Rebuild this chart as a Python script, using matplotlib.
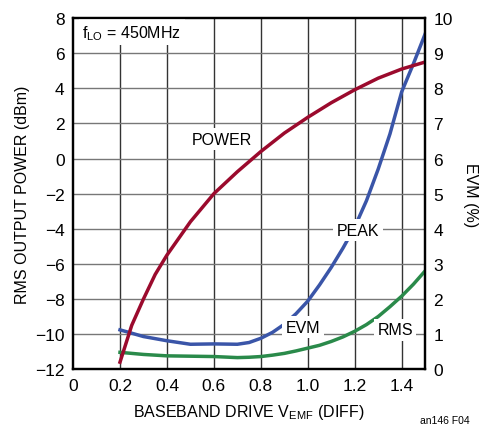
import matplotlib
matplotlib.use('Agg')
import matplotlib.pyplot as plt
import numpy as np

plt.rcParams['font.family'] = ['Liberation Sans Narrow', 'Liberation Sans', 'DejaVu Sans']

# data
drive = [0.2, 0.25, 0.3, 0.35, 0.4, 0.5, 0.6, 0.7, 0.8, 0.9, 1.0, 1.1, 1.2, 1.3, 1.4, 1.5]
power = [-11.6, -9.5, -8.0, -6.6, -5.5, -3.6, -2.0, -0.75, 0.4, 1.45, 2.35, 3.18, 3.92, 4.58, 5.1, 5.5]

evm_x = [0.2, 0.3, 0.4, 0.5, 0.6, 0.7, 0.75, 0.8, 0.85, 0.9, 0.95, 1.0, 1.05, 1.1, 1.15,
         1.2, 1.25, 1.3, 1.35, 1.4, 1.45, 1.5]
evm_peak = [1.12, 0.93, 0.81, 0.71, 0.72, 0.71, 0.76, 0.88, 1.05, 1.28, 1.58, 1.94, 2.4,
            2.9, 3.45, 4.05, 4.8, 5.7, 6.7, 7.9, 8.7, 9.55]
evm_rms = [0.48, 0.42, 0.38, 0.37, 0.36, 0.33, 0.34, 0.36, 0.4, 0.45, 0.52, 0.6, 0.68,
           0.79, 0.92, 1.08, 1.27, 1.5, 1.78, 2.08, 2.42, 2.8]

red = '#9b0a2d'
blue = '#3a55a8'
green = '#2a8a4a'

fig = plt.figure(figsize=(4.87, 4.35), dpi=100)
ax = fig.add_axes([0.150, 0.149, 0.723, 0.807])
ax2 = ax.twinx()

ax.set_xlim(0, 1.5)
ax.set_ylim(-12, 8)
ax2.set_ylim(0, 10)
ax.set_xticks(np.arange(0, 1.41, 0.2))
ax.set_xticklabels(['0', '0.2', '0.4', '0.6', '0.8', '1.0', '1.2', '1.4'])
ax.set_yticks(np.arange(-12, 9, 2))
ax.set_yticklabels([str(v).replace('-', '\u2212') for v in range(-12, 9, 2)])
ax2.set_yticks(range(0, 11))

for v in np.arange(0.2, 1.41, 0.2):
    ax.axvline(v, color='#333333', lw=1.0, zorder=1)
for v in range(-10, 8, 2):
    ax.axhline(v, color='#777777', lw=1.0, zorder=1)

for a in (ax, ax2):
    a.tick_params(length=0, labelsize=12.5, pad=6)
    for s in a.spines.values():
        s.set_linewidth(1.6)
        s.set_color('black')

# EVM curves go through the right-hand scale
ax.plot(evm_x, evm_rms, color=green, lw=2.5, zorder=3, transform=ax2.transData)
ax.plot(evm_x, evm_peak, color=blue, lw=2.5, zorder=3, transform=ax2.transData)
ax.plot(drive, power, color=red, lw=2.5, zorder=4)

box = dict(facecolor='white', edgecolor='none', pad=2.5)
fs = 11.5
ax.text(0.635, 1.1, 'POWER', fontsize=fs, ha='center', va='center', zorder=5, bbox=box)
ax.text(1.215, 3.96, 'PEAK', fontsize=fs, ha='center', va='center', zorder=5, bbox=box,
        transform=ax2.transData)
ax.text(0.98, 1.2, 'EVM', fontsize=fs, ha='center', va='center', zorder=5, bbox=box,
        transform=ax2.transData)
ax.text(1.372, 1.12, 'RMS', fontsize=fs, ha='center', va='center', zorder=5, bbox=box,
        transform=ax2.transData)
ax.text(0.04, 7.2, r'f$_\mathregular{LO}$ = 450MHz', fontsize=fs, ha='left', va='center',
        zorder=5, bbox=box)

ax.set_ylabel('RMS OUTPUT POWER (dBm)', fontsize=fs, labelpad=4)
ax2.set_ylabel('EVM (%)', fontsize=fs, rotation=270, labelpad=18)
ax.set_xlabel(r'BASEBAND DRIVE V$_\mathregular{EMF}$ (DIFF)', fontsize=fs, labelpad=7)
fig.text(0.965, 0.02, 'an146 F04', fontsize=7.5, ha='right', va='bottom')

fig.savefig('out.png', dpi=100)
